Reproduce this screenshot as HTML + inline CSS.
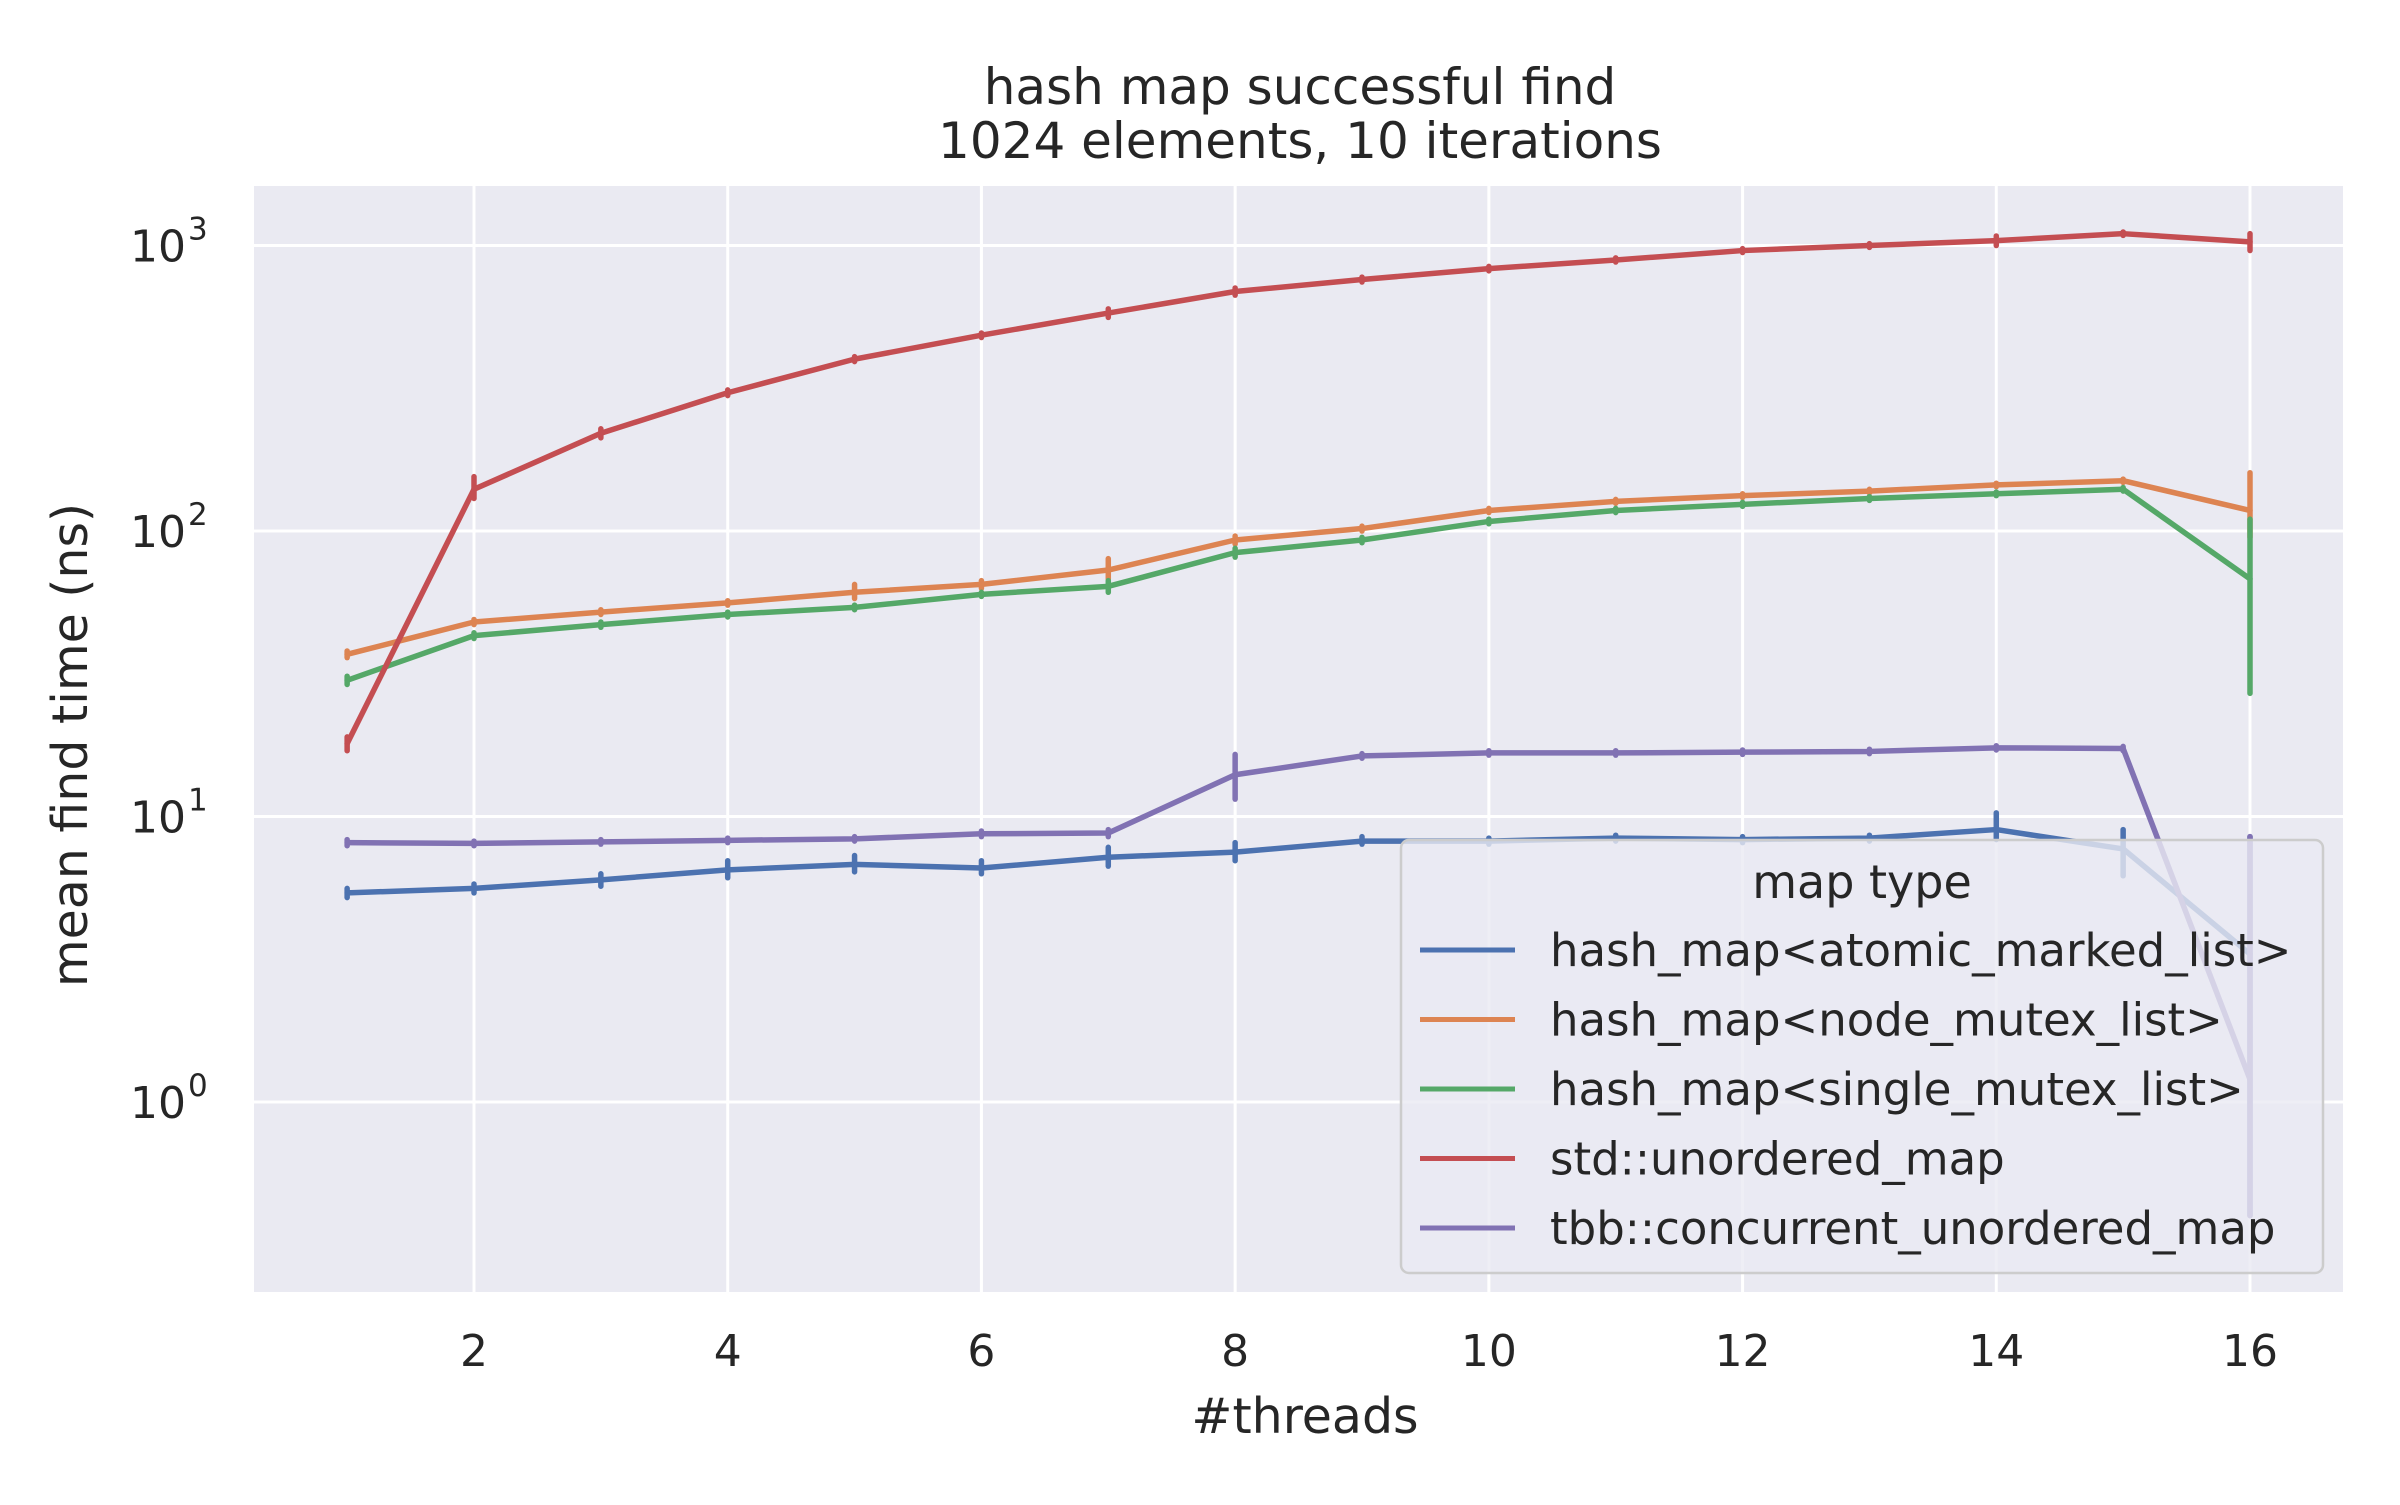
<!DOCTYPE html>
<html><head><meta charset="utf-8"><style>
body{margin:0;background:#fff;}
svg text{font-family:"DejaVu Sans","Liberation Sans",sans-serif;fill:#262626;}
</style></head><body>
<svg id="chart" width="2400" height="1500" xmlns="http://www.w3.org/2000/svg">
<rect x="254" y="186" width="2089" height="1106" fill="#eaeaf2"/>
<g id="grid"></g>
<g id="series"></g>
<g id="axes"></g>
<text x="1300" y="104" font-size="50" text-anchor="middle">hash map successful find</text>
<text x="1300" y="158" font-size="50" text-anchor="middle">1024 elements, 10 iterations</text>
<text x="1305" y="1433" font-size="49" text-anchor="middle">#threads</text>
<text transform="translate(87,745) rotate(-90)" font-size="49" text-anchor="middle">mean find time (ns)</text>
<g id="legend"></g>
</svg>
<script>
const threads=[1,2,3,4,5,6,7,8,9,10,11,12,13,14,15,16];
const names=["hash_map<atomic_marked_list>","hash_map<node_mutex_list>","hash_map<single_mutex_list>","std::unordered_map","tbb::concurrent_unordered_map"];
const colors=["#4c72b0","#dd8452","#55a868","#c44e52","#8172b3"];
const atomicVals=[5.4,5.6,6.0,6.5,6.8,6.6,7.2,7.5,8.2,8.2,8.4,8.3,8.4,9.0,7.7,3.3];
const nodeVals=[37,48,52,56,61,65,73,93,102,118,127,133,138,145,150,118];
const singleVals=[30,43,47,51,54,60,64,84,93,108,118,124,130,135,140,68];
const stdVals=[18,140,220,305,400,485,580,690,760,830,890,960,1000,1040,1100,1030];
const tbbVals=[8.1,8.05,8.15,8.25,8.35,8.7,8.75,14,16.3,16.7,16.7,16.8,16.9,17.4,17.3,1.2];
const atomicErr=[[5.2,5.6],[5.4,5.8],[5.7,6.3],[6.1,7.0],[6.4,7.3],[6.3,7.0],[6.7,7.8],[7.0,8.1],[8.0,8.5],[8.0,8.4],[8.2,8.6],[8.1,8.5],[8.2,8.6],[8.3,10.3],[6.2,9.0],[0.4,8.5]];
const nodeErr=[[36,38],[47,49],[51,53],[55,57],[58,65],[63,67],[68,80],[90,96],[100,104],[116,120],[125,129],[131,135],[136,140],[143,147],[148,152],[95,160]];
const singleErr=[[29,31],[42,44],[46,48],[50,52],[53,55],[59,61],[61,67],[81,87],[91,95],[106,110],[116,120],[122,126],[128,132],[133,137],[138,142],[27,110]];
const stdErr=[[17,19],[130,155],[212,228],[298,312],[392,408],[476,494],[560,600],[670,710],[745,775],[815,845],[875,905],[945,975],[985,1015],[1000,1080],[1085,1115],[960,1100]];
const tbbErr=[[7.9,8.3],[7.9,8.2],[8.0,8.3],[8.1,8.4],[8.2,8.5],[8.5,8.9],[8.5,9.0],[11.5,16.5],[16,16.6],[16.4,17],[16.4,17],[16.5,17.1],[16.6,17.2],[17.1,17.7],[17.0,17.6],[0.4,8.5]];
const xTicks=[2,4,6,8,10,12,14,16];
const yTicks=[0,1,2,3];

const X0=474,X1=2250;
function xs(v){return X0+(v-2)*(X1-X0)/14;}
function ys(v){return 1102-(Math.log10(v))*285.5;}
const NS="http://www.w3.org/2000/svg";
function mk(t,a,p){const e=document.createElementNS(NS,t);for(const k in a)e.setAttribute(k,a[k]);p.appendChild(e);return e;}
const grid=document.getElementById('grid'),axes=document.getElementById('axes'),ser=document.getElementById('series');
xTicks.forEach(t=>{
  const l=mk('line',{x1:xs(t),x2:xs(t),y1:186,y2:1292,stroke:'#fff','stroke-width':3},grid);
  
  
  const tx=mk('text',{x:xs(t),y:1366,'font-size':44,'text-anchor':'middle'},axes);
  tx.textContent=t;
  
  
});
yTicks.forEach(t=>{
  const y=ys(Math.pow(10,t));
  const l=mk('line',{x1:254,x2:2343,y1:y,y2:y,stroke:'#fff','stroke-width':3},grid);
  
  
  const tx=mk('text',{x:186,y:y+16,'font-size':44,'text-anchor':'end'},axes);
  tx.textContent='10';
  
  
  const sp=mk('text',{x:188,y:y-6,'font-size':31,'text-anchor':'start'},axes);
  sp.textContent=String(t);
  
  
});
const allVals=[atomicVals,nodeVals,singleVals,stdVals,tbbVals];
const allErr=[atomicErr,nodeErr,singleErr,stdErr,tbbErr];
allVals.forEach((vals,i)=>{
  const g=mk('g',{},ser);
  
  
  const pts=vals.map((v,j)=>xs(threads[j])+','+ys(v)).join(' ');
  const pl=mk('polyline',{points:pts,fill:'none',stroke:colors[i],'stroke-width':5.5,'stroke-linejoin':'round','stroke-linecap':'round'},g);
  
  
  allErr[i].forEach((e,j)=>{
    const el=mk('line',{x1:xs(threads[j]),x2:xs(threads[j]),y1:ys(e[0]),y2:ys(e[1]),stroke:colors[i],'stroke-width':5.5,'stroke-linecap':'round'},g);
    
    
  });
});
const lg=document.getElementById('legend');
const bx=mk('rect',{x:1401,y:840,width:922,height:433,rx:8,fill:'#eaeaf2','fill-opacity':0.8,stroke:'#cccccc','stroke-width':2.5},lg);


const lt=mk('text',{x:1862,y:898,'font-size':46,'text-anchor':'middle'},lg);
lt.textContent='map type';


names.forEach((n,i)=>{
  const y=950+i*69.5;
  const ln=mk('line',{x1:1420,x2:1515,y1:y,y2:y,stroke:colors[i],'stroke-width':5},lg);
  
  
  const t=mk('text',{x:1550,y:y+16,'font-size':45},lg);
  t.textContent=n;
  
  
});
</script>
</body></html>
